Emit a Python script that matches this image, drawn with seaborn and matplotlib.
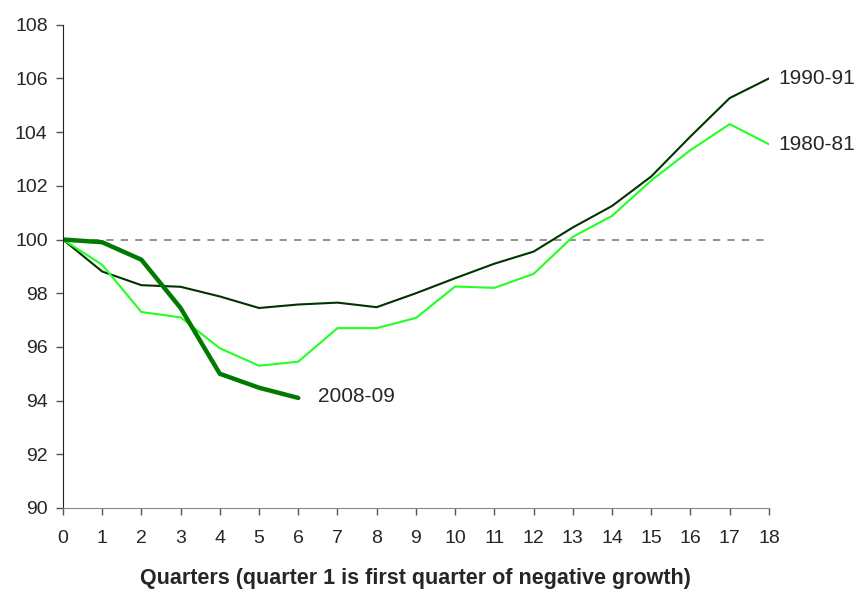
import numpy as np
import pandas as pd
import matplotlib
matplotlib.use("Agg")
import matplotlib.pyplot as plt
import seaborn as sns

quarters = list(range(19))
r1990 = [100, 98.81, 98.30, 98.24, 97.88, 97.45, 97.58, 97.65, 97.48, 98.00,
         98.56, 99.10, 99.55, 100.45, 101.25, 102.35, 103.84, 105.27, 106.0]
r1980 = [100, 99.06, 97.30, 97.10, 95.95, 95.30, 95.45, 96.70, 96.70, 97.08,
         98.25, 98.20, 98.72, 100.10, 100.88, 102.20, 103.33, 104.30, 103.55]
q2008 = list(range(7))
r2008 = [100, 99.9, 99.25, 97.45, 95.0, 94.48, 94.1]

df = pd.concat([
    pd.DataFrame({"quarter": quarters, "index": r1990, "recession": "1990-91"}),
    pd.DataFrame({"quarter": quarters, "index": r1980, "recession": "1980-81"}),
    pd.DataFrame({"quarter": q2008, "index": r2008, "recession": "2008-09"}),
])

sns.set_style("white")
plt.rcParams["font.family"] = ["Liberation Sans", "DejaVu Sans"]

fig = plt.figure(figsize=(8.62, 5.9), dpi=100)
ax = fig.add_axes([0.073, 0.139, 0.819, 0.819])

ax.plot([0, 18], [100, 100], color="#888888", lw=1.3, ls=(0, (4, 4)), zorder=1)

sns.lineplot(data=df, x="quarter", y="index", hue="recession",
             palette={"1990-91": "#003300", "1980-81": "#22ff22", "2008-09": "#007a00"},
             size="recession", sizes={"1990-91": 1.5, "1980-81": 1.5, "2008-09": 3.2},
             legend=False, ax=ax, zorder=2)

ax.text(18.25, r1990[-1], "1990-91", fontsize=15, va="center", ha="left")
ax.text(18.25, r1980[-1], "1980-81", fontsize=15, va="center", ha="left")
ax.text(6.5, r2008[-1] + 0.05, "2008-09", fontsize=15, va="center", ha="left")

ax.set_xlim(0, 18)
ax.set_ylim(90, 108)
ax.set_xticks(range(19))
ax.set_yticks(range(90, 109, 2))
ax.tick_params(axis="both", direction="out", length=5, width=1, color="#555555",
               labelsize=14, bottom=True, left=True)
ax.tick_params(axis="x", pad=11)
ax.tick_params(axis="y", pad=6)
for s in ["top", "right"]:
    ax.spines[s].set_visible(False)
ax.spines["left"].set_color("#222222")
ax.spines["bottom"].set_color("#888888")
ax.set_ylabel("")
ax.set_xlabel("Quarters (quarter 1 is first quarter of negative growth)",
              fontsize=15.5, fontweight="bold", labelpad=15)

fig.savefig("out.png", dpi=100)
